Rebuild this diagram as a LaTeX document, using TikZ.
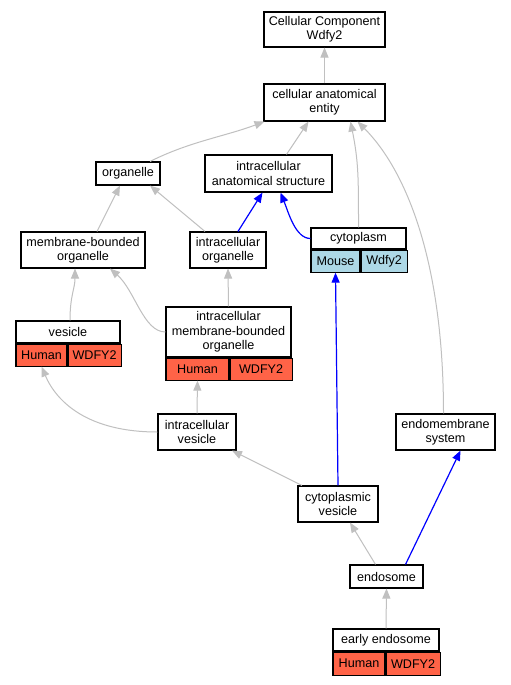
\documentclass[tikz,border=0pt]{standalone}
\usepackage{fontspec}
\setmainfont{Liberation Sans}
\usetikzlibrary{arrows.meta}
\usetikzlibrary{positioning}
\definecolor{edgegray}{RGB}{192,192,192}
\definecolor{humanred}{RGB}{255,99,71}
\definecolor{mouseblue}{RGB}{173,216,230}
\definecolor{partblue}{RGB}{0,0,255}

\tikzset{
  term/.style={draw=black, line width=1.1pt, fill=white, align=center, inner sep=0pt,
               font=\fontsize{12.6}{14.4}\selectfont},
  humancell/.style={term, fill=humanred, anchor=north west},
  mousecell/.style={term, fill=mouseblue, anchor=north west},
  isa/.style={draw=edgegray, line width=1pt, -{Triangle[length=10pt,width=8pt]}},
  partof/.style={draw=partblue, line width=1.2pt, -{Triangle[length=10pt,width=8pt]}}
}

\begin{document}
\begin{tikzpicture}[x=1pt,y=-1pt]

\useasboundingbox[fill=white] (0,0) rectangle (511,685);

%---------------------------------------
% Terms
%---------------------------------------
\node[term, minimum width=121pt, minimum height=35pt] (cc)   at (324.5,29.5)  {Cellular Component\\Wdfy2};
\node[term, minimum width=121pt, minimum height=37pt] (cae)  at (324.5,102.5) {cellular anatomical\\entity};
\node[term, minimum width=64pt,  minimum height=23pt] (org)  at (128,173.5)   {organelle};
\node[term, minimum width=127pt, minimum height=37pt] (ias)  at (268.5,173.5) {intracellular\\anatomical structure};
\node[term, minimum width=124pt, minimum height=36pt] (mbo)  at (83,250)      {membrane-bounded\\organelle};
\node[term, minimum width=76pt,  minimum height=36pt] (io)   at (228,250)     {intracellular\\organelle};
\node[term, minimum width=78pt,  minimum height=36pt] (iv)   at (197,432)     {intracellular\\vesicle};
\node[term, minimum width=99pt,  minimum height=36pt] (ems)  at (445.5,432)   {endomembrane\\system};
\node[term, minimum width=80pt,  minimum height=36pt] (cv)   at (338,504)     {cytoplasmic\\vesicle};
\node[term, minimum width=73pt,  minimum height=23pt] (endo) at (386.5,576.5) {endosome};

% cytoplasm (Mouse)
\node[term, minimum width=95pt, minimum height=21pt] (cyto) at (358.5,238.5) {cytoplasm};
\node[mousecell, minimum width=49pt, minimum height=22pt] (cytom) at (cyto.south west) {Mouse};
\node[mousecell, minimum width=46pt, minimum height=22pt] (cytog) at (cytom.north east) {Wdfy2};

% vesicle (Human)
\node[term, minimum width=104pt, minimum height=22pt] (ves) at (68,332) {vesicle};
\node[humancell, minimum width=51pt, minimum height=22pt] (vesh) at (ves.south west) {Human};
\node[humancell, minimum width=53pt, minimum height=22pt] (vesg) at (vesh.north east) {WDFY2};

% intracellular membrane-bounded organelle (Human)
\node[term, minimum width=125pt, minimum height=50pt] (imbo) at (228.5,332) {intracellular\\membrane-bounded\\organelle};
\node[humancell, minimum width=63pt, minimum height=22pt] (imboh) at (imbo.south west) {Human};
\node[humancell, minimum width=62pt, minimum height=22pt] (imbog) at (imboh.north east) {WDFY2};

% early endosome (Human)
\node[term, minimum width=106pt, minimum height=22pt] (ee) at (386,640) {early endosome};
\node[humancell, minimum width=52pt, minimum height=23pt] (eeh) at (ee.south west) {Human};
\node[humancell, minimum width=54pt, minimum height=23pt] (eeg) at (eeh.north east) {WDFY2};

%---------------------------------------
% is_a edges
%---------------------------------------
\draw[isa] (cae.north) -- (cc.south);
\draw[isa] ([xshift=22pt]org.north) .. controls +(40,-20) and +(-40,15) .. ([xshift=-60pt]cae.south);
\draw[isa] ([xshift=18pt]ias.north) -- ([xshift=-16pt]cae.south);
\draw[isa] (cyto.north) .. controls +(0,-50) and +(8,40) .. ([xshift=26pt]cae.south);
\draw[isa] ([xshift=-2pt]ems.north) .. controls +(0,-160) and +(45,45) .. ([xshift=33pt]cae.south);
\draw[isa] ([xshift=14pt]mbo.north) -- ([xshift=-8pt]org.south);
\draw[isa] ([xshift=-23pt]io.north) -- ([xshift=22pt]org.south);
\draw[isa] (imbo.west) .. controls +(-22,0) and +(25,22) .. ([xshift=27pt]mbo.south);
\draw[isa] (imbo.north) -- (io.south);
\draw[isa] ([xshift=2pt]ves.north) .. controls +(0,-25) and +(0,20) .. ([xshift=-8pt]mbo.south);
\draw[isa] (iv.west) .. controls +(-70,0) and +(15,35) .. (vesh.south);
\draw[isa] (iv.north) -- (imboh.south);
\draw[isa] ([xshift=-36pt]cv.north) -- ([xshift=35pt]iv.south);
\draw[isa] ([xshift=-11pt]endo.north) -- ([xshift=12pt]cv.south);
\draw[isa] (ee.north) -- (endo.south);

%---------------------------------------
% part_of edges
%---------------------------------------
\draw[partof] ([xshift=10pt]io.north) -- ([xshift=-6pt]ias.south);
\draw[partof] (cyto.west) .. controls +(-15,0) and +(8,20) .. ([xshift=12pt]ias.south);
\draw[partof] (cv.north) -- (cytom.south);
\draw[partof] ([xshift=19pt]endo.north) -- ([xshift=15pt]ems.south);

\end{tikzpicture}
\end{document}
